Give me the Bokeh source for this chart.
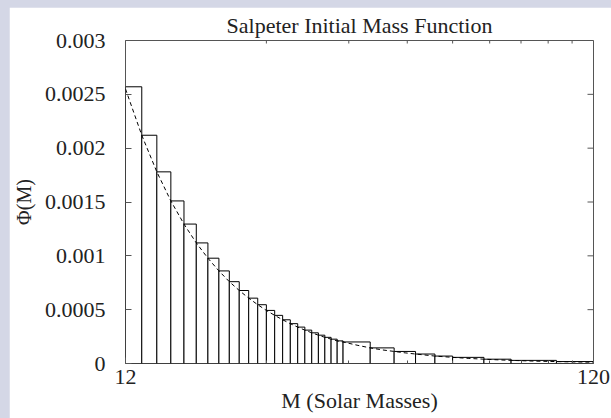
import math
from bokeh.plotting import figure
from bokeh.models import (Range1d, FixedTicker, CustomJSTickFormatter, Spacer,
                          ColumnDataSource)
from bokeh.layouts import column, row
from bokeh.embed import file_html
from bokeh.resources import INLINE

# ---- data ----
bin_edges = [12, 13, 14, 15, 16, 17, 18, 19, 20, 21, 22, 23, 24, 25, 26, 27, 28,
             29, 30, 31, 32, 33, 34, 35, 40, 45, 50, 55, 60, 70, 80, 100, 120]
bin_heights = [0.00257, 0.00212, 0.00178, 0.00151, 0.001295, 0.00112, 0.000978,
               0.00086, 0.00076, 0.000678, 0.000607, 0.000546, 0.000493, 0.000447,
               0.000406, 0.00037, 0.000338, 0.00031, 0.000285, 0.000263, 0.000243,
               0.000226, 0.00021, 0.0002, 0.000145, 0.000112, 0.000088, 0.000069,
               0.000057, 0.00004, 0.000029, 0.000018]
curve_m = [12, 13, 14, 15, 16, 17, 18, 19, 20, 21, 22, 23, 24, 25, 26, 27, 28, 29,
           30, 31, 32, 33, 34, 35, 37.5, 40, 42.5, 45, 47.5, 50, 55, 60, 65, 70,
           75, 80, 90, 100, 110, 120]
curve_phi = [0.00255, 0.00212, 0.00178, 0.00151, 0.001295, 0.00112, 0.000978,
             0.00086, 0.00076, 0.000678, 0.000607, 0.000546, 0.000493, 0.000447,
             0.000406, 0.00037, 0.000338, 0.00031, 0.000285, 0.000263, 0.000243,
             0.000226, 0.00021, 0.0002, 0.00017, 0.000145, 0.000126, 0.000112,
             0.0000987, 0.000088, 0.000069, 0.000057, 0.0000472, 0.00004,
             0.000034, 0.000029, 0.000022, 0.000018, 0.0000144, 0.0000117]
x_major = [12, 120]
x_minor = [24, 36, 48, 60, 72, 84, 96, 108]
y_ticks = [0, 0.0005, 0.001, 0.0015, 0.002, 0.0025, 0.003]

title_text = "Salpeter Initial Mass Function"
x_label = "M (Solar Masses)"
y_label = "\u03a6(M)"

FONT = "Liberation Serif"
TXT = "#222222"
FRAME = "#555555"

X_MIN, X_MAX = 12, 120
Y_MIN, Y_MAX = 0, 0.003

bars = ColumnDataSource(dict(left=bin_edges[:-1], right=bin_edges[1:],
                             top=bin_heights, bottom=[Y_MIN] * len(bin_heights)))
curve = ColumnDataSource(dict(x=curve_m, y=curve_phi))

p = figure(width=602, height=411, x_axis_type="log",
           x_range=Range1d(X_MIN, X_MAX), y_range=Range1d(Y_MIN, Y_MAX),
           output_backend="svg", toolbar_location=None,
           min_border_left=113, min_border_right=18,
           min_border_top=33, min_border_bottom=55,
           title=title_text)

p.title.text_font = FONT
p.title.text_font_size = "22px"
p.title.text_font_style = "normal"
p.title.text_color = TXT
p.title.align = "center"
p.title.standoff = 6

p.background_fill_color = "white"
p.border_fill_color = "white"
p.outline_line_color = FRAME
p.outline_line_width = 1
p.grid.visible = False

p.quad(left="left", right="right", top="top", bottom="bottom", source=bars,
       fill_color="white", line_color="black", line_width=1)
p.line("x", "y", source=curve, line_color="black", line_width=1,
       line_dash="4 3")

# mirrored tick marks on the right and top frame edges (half clipped by frame)
right_ticks = ColumnDataSource(dict(x=[X_MAX] * len(y_ticks), y=y_ticks))
p.scatter("x", "y", source=right_ticks, marker="dash", size=12,
          line_color=FRAME, line_width=1)
top_ticks = ColumnDataSource(dict(x=x_minor, y=[Y_MAX] * len(x_minor)))
p.scatter("x", "y", source=top_ticks, marker="dash", size=6, angle=math.pi / 2,
          line_color=FRAME, line_width=1)

fmt = CustomJSTickFormatter(code="return tick.toString();")


def style_axis(ax):
    ax.axis_line_color = None
    ax.major_tick_line_color = FRAME
    ax.minor_tick_line_color = FRAME
    ax.major_tick_in = 6
    ax.major_tick_out = 0
    ax.minor_tick_in = 3
    ax.minor_tick_out = 0
    ax.major_label_text_font = FONT
    ax.major_label_text_color = TXT
    ax.major_label_text_font_size = "22px"
    ax.axis_label_text_font = FONT
    ax.axis_label_text_color = TXT
    ax.axis_label_text_font_style = "normal"


xa = p.xaxis[0]
xa.ticker = FixedTicker(ticks=x_major, minor_ticks=x_minor)
xa.formatter = fmt
style_axis(xa)
xa.major_label_standoff = 6
xa.axis_label = x_label
xa.axis_label_text_font_size = "22px"
xa.axis_label_standoff = 1

ya = p.yaxis[0]
ya.ticker = FixedTicker(ticks=y_ticks)
ya.formatter = fmt
style_axis(ya)
ya.major_label_standoff = 20
ya.axis_label = y_label
ya.axis_label_text_font_size = "20px"
ya.axis_label_standoff = 7

layout = column(
    Spacer(width=611, height=7),
    row(Spacer(width=9, height=411), p),
    styles={"background-color": "#d4d7e6"},
)

open("out.html", "w").write(file_html(layout, INLINE))
